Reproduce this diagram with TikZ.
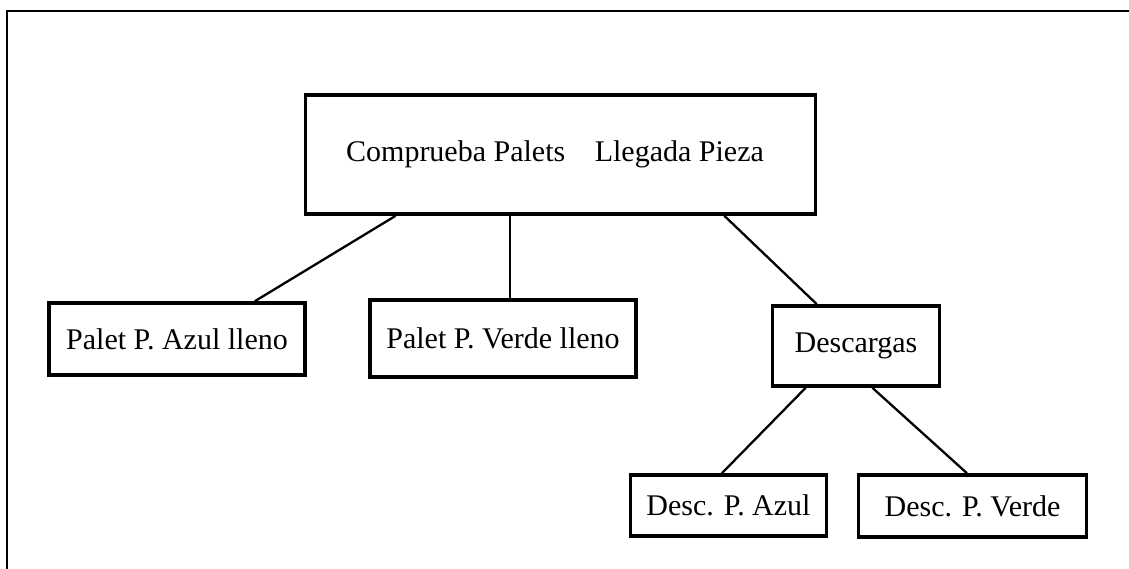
\documentclass[tikz,border=0pt]{standalone}
\usepackage{fontspec}
\setmainfont{Liberation Serif}
\usetikzlibrary{calc}
\begin{document}
\begin{tikzpicture}[x=1pt,y=-1pt,
  box/.style={draw=black,line width=3.6pt,rectangle,inner sep=0pt,align=center,
    font=\fontsize{30}{36}\selectfont},
  conn/.style={draw=black,line width=2.3pt},
  frame/.style={draw=black,line width=2.2pt}]
\useasboundingbox (0,0) rectangle (1129,569);
\coordinate (fb) at (7,569);
\coordinate (fc) at (7,11);
\coordinate (fr) at (1129,11);
\draw[frame] (fb) -- (fc) -- (fr);

\node[box,minimum width=510pt,minimum height=119pt] (top) at (560.5,154.5)
  {Comprueba Palets\hspace{29.5pt}Llegada Pieza\hspace{11pt}};
\node[box,minimum width=256pt,minimum height=72pt] (pa) at (177,339) {Palet P. Azul lleno};
\node[box,minimum width=266pt,minimum height=77pt] (pv) at (503,338.5) {Palet P. Verde lleno};
\node[box,minimum width=167pt,minimum height=80pt] (desc) at (856,346) {Descargas};
\node[box,minimum width=196pt,minimum height=61pt] (dpa) at (728.5,505.5) {Desc. P. Azul};
\node[box,minimum width=228pt,minimum height=62pt] (dpv) at (972.5,506) {Desc. P. Verde};

\coordinate (t1) at ($(top.south west)!0.179!(top.south east)$);
\coordinate (t2) at ($(top.south west)!0.401!(top.south east)$);
\coordinate (t3) at ($(top.south west)!0.819!(top.south east)$);
\coordinate (pa1) at ($(pa.north west)!0.80!(pa.north east)$);
\coordinate (d0) at ($(desc.north west)!0.27!(desc.north east)$);
\coordinate (d1) at ($(desc.south west)!0.205!(desc.south east)$);
\coordinate (d2) at ($(desc.south west)!0.596!(desc.south east)$);
\coordinate (da1) at ($(dpa.north west)!0.467!(dpa.north east)$);
\coordinate (dv1) at ($(dpv.north west)!0.476!(dpv.north east)$);

\draw[conn] (t1) -- (pa1);
\draw[conn] (t2) -- (t2 |- pv.north);
\draw[conn] (t3) -- (d0);
\draw[conn] (d1) -- (da1);
\draw[conn] (d2) -- (dv1);
\end{tikzpicture}
\end{document}
